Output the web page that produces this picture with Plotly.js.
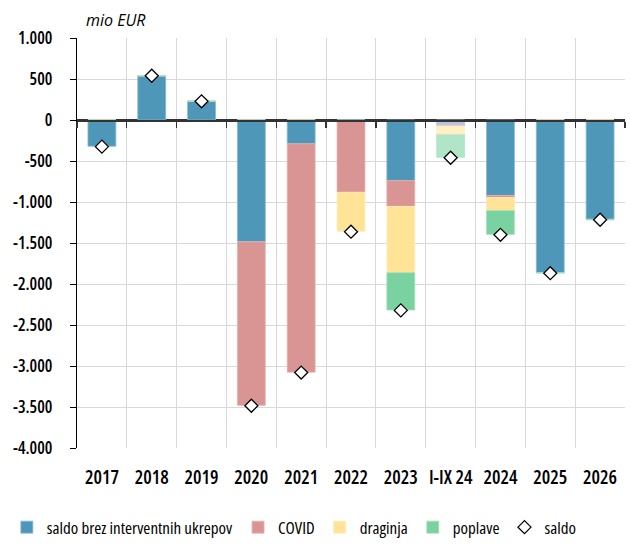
<!DOCTYPE html>
<html>
<head>
<meta charset="utf-8">
<script src="https://cdn.plot.ly/plotly-3.0.1.min.js"></script>
<style>
html,body{margin:0;padding:0;background:#fff;}
#chart{width:630px;height:551px;}
svg text{font-stretch:75% !important;}
svg .gtitle{font-stretch:100% !important;}
</style>
</head>
<body>
<div id="chart"></div>
<script>
// ---- data ----
const categories = ['2017','2018','2019','2020','2021','2022','2023','I-IX 24','2024','2025','2026'];
const saldoBrez  = [-320, 540, 230, -1484, -290, -12, -740, -65, -920, -1860, -1210];
const covid      = [0, 0, 0, -1996, -2785, -870, -314, -15, -25, 0, 0];
const draginja   = [0, 0, 0, 0, 0, -475, -808, -100, -160, 0, 0];
const poplave    = [0, 0, 0, 0, 0, 0, -455, -275, -290, -8, -8];
const saldo      = [-325, 540, 228, -3485, -3080, -1362, -2322, -460, -1400, -1868, -1216];
const yTickVals  = [1000, 500, 0, -500, -1000, -1500, -2000, -2500, -3000, -3500, -4000];
const yTickText  = ['1.000','500','0','-500','-1.000','-1.500','-2.000','-2.500','-3.000','-3.500','-4.000'];
const seriesNames = ['saldo brez interventnih ukrepov','COVID','draginja','poplave','saldo'];

// ---- styles ----
const FONT = 'Open Sans, Roboto, Noto Sans, sans-serif';
const partial = 'I-IX 24';
const styles = [
  {c:'#4f97b8', light:'#b4c6e4', edge:'#86b9d0'},
  {c:'#d99594', light:'#f1c9c9', edge:'#e6b3b2'},
  {c:'#ffe396', light:'#fff0c4', edge:'#ffecb8'},
  {c:'#79d2a0', light:'#b0e5c8', edge:'#a3e0be'}
];
const vals = [saldoBrez, covid, draginja, poplave];

const traces = vals.map((v, i) => ({
  type: 'bar',
  name: seriesNames[i],
  x: categories,
  y: v,
  xaxis: 'x',
  yaxis: 'y',
  width: 0.56,
  marker: {
    color: categories.map(c => c === partial ? styles[i].light : styles[i].c),
    line: {color: categories.map(c => c === partial ? styles[i].light : styles[i].edge), width: 0.8}
  }
}));

traces.push({
  type: 'scatter',
  mode: 'markers',
  name: seriesNames[4],
  x: categories,
  y: saldo,
  xaxis: 'x2',
  yaxis: 'y',
  marker: {symbol: 'diamond', size: 10, color: '#ffffff', line: {color: '#000000', width: 1.3}}
});

const layout = {
  width: 630,
  height: 551,
  margin: {l: 77, r: 5, t: 38, b: 103},
  paper_bgcolor: '#ffffff',
  plot_bgcolor: '#ffffff',
  barmode: 'relative',
  font: {family: FONT, size: 18, color: '#000000', weight: 600},
  showlegend: true,
  title: {
    text: 'mio EUR',
    font: {family: FONT, size: 16, style: 'italic', weight: 400, color: '#000000'},
    x: 86/630, xanchor: 'left', xref: 'container',
    y: 1 - 20/551, yanchor: 'middle', yref: 'container'
  },
  xaxis: {
    type: 'category',
    categoryorder: 'array',
    categoryarray: categories,
    range: [-0.5, 10.5],
    anchor: 'free',
    position: 0.8,
    side: 'bottom',
    tickson: 'boundaries',
    showgrid: false,
    showticklabels: false,
    ticks: 'outside',
    ticklen: 6,
    tickwidth: 1.3,
    tickcolor: '#333333',
    showline: true,
    linecolor: '#333333',
    linewidth: 1.5,
    zeroline: false,
    automargin: false,
    fixedrange: true
  },
  xaxis2: {
    type: 'category',
    categoryorder: 'array',
    categoryarray: categories,
    range: [-0.5, 10.5],
    overlaying: 'x',
    anchor: 'y',
    side: 'bottom',
    tickson: 'boundaries',
    showgrid: true,
    gridcolor: '#d9d9d9',
    gridwidth: 1,
    ticks: '',
    showline: false,
    zeroline: false,
    tickangle: 0,
    ticklabelstandoff: 16,
    tickfont: {family: FONT, size: 19, weight: 600, color: '#000000'},
    automargin: false,
    fixedrange: true
  },
  yaxis: {
    range: [-4000, 1000],
    tickvals: yTickVals,
    ticktext: yTickText,
    showgrid: true,
    gridcolor: '#d9d9d9',
    gridwidth: 1,
    zeroline: true,
    zerolinecolor: '#333333',
    zerolinewidth: 1.5,
    showline: true,
    linecolor: '#000000',
    linewidth: 1.2,
    ticks: 'outside',
    ticklen: 6,
    tickcolor: '#000000',
    ticklabelstandoff: 14,
    tickfont: {family: FONT, size: 17, weight: 600, color: '#000000'},
    automargin: false,
    fixedrange: true
  },
  legend: {
    orientation: 'h',
    x: -0.128, xanchor: 'left',
    y: -0.238, yanchor: 'bottom',
    bgcolor: 'rgba(0,0,0,0)',
    font: {family: FONT, size: 17, weight: 500, color: '#000000'},
    itemwidth: 30,
    tracegroupgap: 0,
    traceorder: 'normal'
  }
};

Plotly.newPlot('chart', traces, layout, {displayModeBar: false, staticPlot: true});
</script>
</body>
</html>
